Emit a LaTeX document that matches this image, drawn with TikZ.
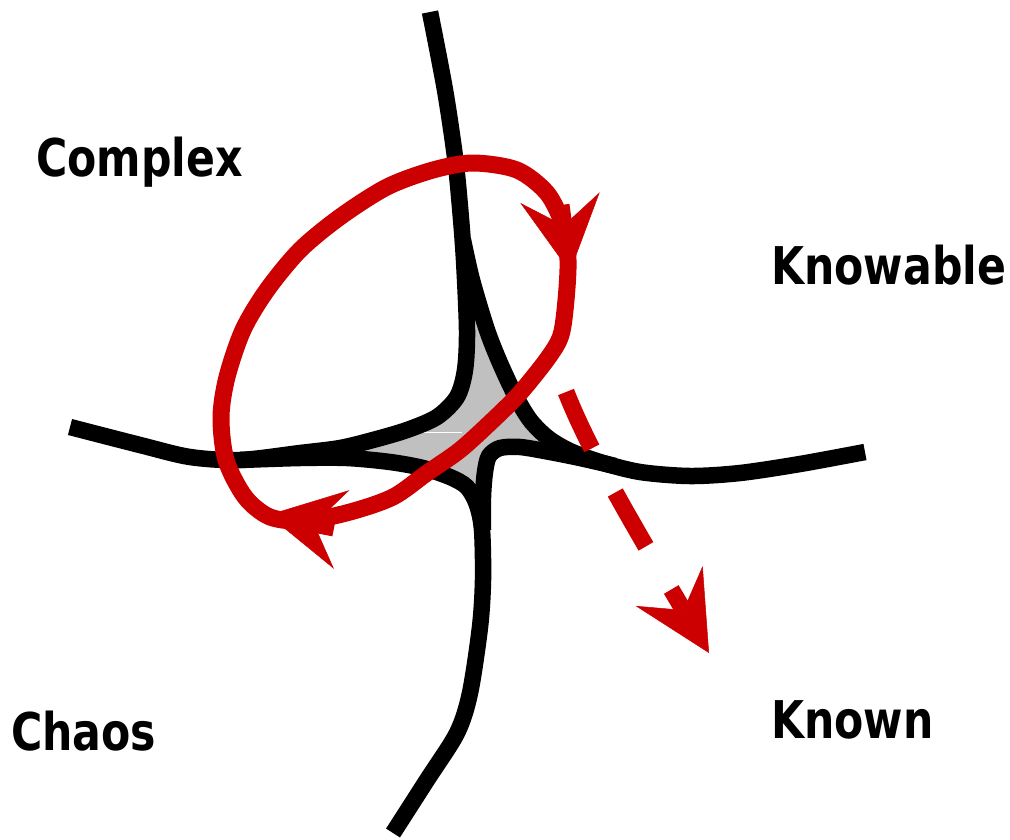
\documentclass[tikz,border=0pt]{standalone}
\usepackage{fontspec}
\newfontfamily\lblfont[FakeStretch=0.82]{DejaVu Sans}
\usetikzlibrary{arrows.meta}
\definecolor{myred}{RGB}{204,0,0}
\definecolor{midgray}{RGB}{192,192,192}
\tikzset{
  blackline/.style={line width=16.5pt, black},
  redline/.style={line width=17pt, myred},
  bigtip/.style={-{Stealth[length=75pt,width=80pt,inset=28pt,line width=0.5pt]}},
  lbl/.style={anchor=base west, inner sep=0pt, font=\lblfont\bfseries\fontsize{52}{60}\selectfont}
}
\begin{document}
\begin{tikzpicture}[x=1pt,y=-1pt]
\useasboundingbox (0,0) rectangle (1010,839);
% central gray region
\fill[midgray] (467,330) -- (466,370) -- (457,397) -- (437,417) -- (407,430) -- (373,441) -- (345,452)
  -- (390,462) -- (423,468) -- (450,477) -- (467,488) -- (478,505) -- (484,472) -- (490,456)
  -- (505,448) -- (530,448) -- (550,452) -- (530,421) -- (515,395) -- (500,363) -- (487,330) -- (477,300) -- cycle;
\draw[white, line width=1pt] (413,432) -- (462,432);
% black curves
\draw[blackline] plot[smooth] coordinates {(430,12) (445,90) (455,157) (460,207) (464,260) (467,330) (465,370) (457,397) (437,417) (407,430) (373,440) (340,448) (300,453) (240,460) (190,457) (140,445) (70,427)};
\draw[blackline] plot[smooth] coordinates {(463,240) (472,280) (487,330) (500,363) (515,395) (530,420) (548,438) (570,451) (600,462) (640,472) (690,476) (740,473) (800,464) (865,452)};
\draw[blackline] plot[smooth] coordinates {(240,460) (300,458) (347,458) (390,462) (423,468) (450,477) (467,487) (477,505) (482,530) (483,580) (480,627) (470,693) (457,733) (427,780) (393,833)};
\draw[blackline] plot[smooth] coordinates {(615,466) (580,458) (550,452) (520,447) (500,448) (489,456) (485,472) (483,497) (483,530)};
% red loop
\draw[redline] plot[smooth cycle] coordinates {(566,300) (561,335) (548,358) (520,393) (493,420) (460,450) (427,473) (393,497) (350,512) (305,521) (270,517) (245,497) (226,460) (221,417) (227,377) (243,330) (267,290) (300,250) (340,217) (387,187) (433,170) (473,163) (517,170) (547,193) (563,225) (568,260)};
\coordinate (backA) at (561,205);
\coordinate (tipA) at (570,272);
\coordinate (backB) at (334,528);
\coordinate (tipB) at (268,515);
\draw[redline, bigtip] (backA) -- (tipA);
\draw[redline, bigtip] (backB) -- (tipB);
% dashed arrow
\coordinate (dstart) at (566,392);
\coordinate (dend) at (709,653);
\draw[redline, dash pattern=on 62pt off 50pt, -{Stealth[length=78pt,width=78pt,inset=28pt,line width=0.5pt]}]
  (dstart) .. controls (585,440) and (615,495) .. (dend);
% labels
\node[lbl] (complex) at (36,176) {Complex};
\node[lbl] (knowable) at (771,284) {Knowable};
\node[lbl] (chaos) at (11,750) {Chaos};
\node[lbl] (known) at (771,738) {Known};
\end{tikzpicture}
\end{document}
